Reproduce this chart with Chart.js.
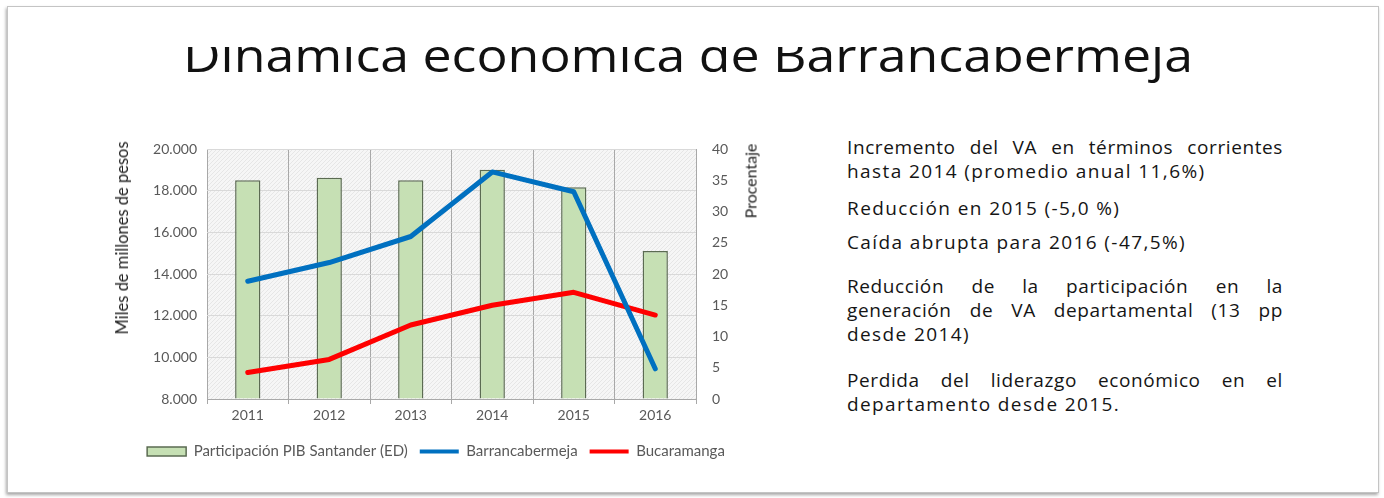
<!DOCTYPE html>
<html><head><meta charset="utf-8">
<script src="https://cdn.jsdelivr.net/npm/chart.js@4/dist/chart.umd.min.js"></script>
<style>
html,body{margin:0;padding:0;background:#fff;width:1384px;height:498px;overflow:hidden;}
#frame{position:absolute;left:7px;top:6px;width:1370px;height:485px;background:#fff;border:1px solid #c4c4c4;box-shadow:-1px 2px 3px rgba(0,0,0,0.35);}
#titleClip{position:absolute;left:0;top:47px;width:1384px;height:40px;overflow:hidden;}
#title{position:absolute;left:183px;top:-16px;font-family:'Open Sans';font-weight:400;font-size:46px;line-height:46px;white-space:nowrap;color:#111;transform-origin:0 0;}
#chartBox{position:absolute;left:100px;top:130px;width:700px;height:340px;}
.ytitle{position:absolute;white-space:nowrap;font-family:Lato;color:#222;transform:translate(-50%,-50%) rotate(-90deg);}
.ln{position:absolute;left:847px;width:436px;font-family:'Open Sans';font-size:19px;letter-spacing:1.4px;line-height:24px;color:#151515;white-space:nowrap;}
.j{text-align:justify;text-align-last:justify;white-space:normal;letter-spacing:0.6px;}
</style>
</head><body>
<div id="frame"></div>
<div id="titleClip"><span id="title">Dinamica economica de Barrancabermeja</span></div>
<div id="chartBox"><canvas id="c"></canvas></div>
<div class="ytitle" style="left:122px;top:238px;font-size:16.5px;">Miles de millones de pesos</div>
<div class="ytitle" style="left:750px;top:181px;font-size:16px;">Procentaje</div>
<div class="ln j" style="top:135px;">Incremento del VA en términos corrientes</div>
<div class="ln" style="top:159px;">hasta 2014 (promedio anual 11,6%)</div>
<div class="ln" style="top:196px;">Reducción en 2015 (-5,0 %)</div>
<div class="ln" style="top:230px;">Caída abrupta para 2016 (-47,5%)</div>
<div class="ln j" style="top:274px;">Reducción de la participación en la</div>
<div class="ln j" style="top:298px;">generación de VA departamental (13 pp</div>
<div class="ln" style="top:322px;">desde 2014)</div>
<div class="ln j" style="top:368px;">Perdida del liderazgo económico en el</div>
<div class="ln" style="top:392px;">departamento desde 2015.</div>
<script>
const categories = ['2011', '2012', '2013', '2014', '2015', '2016'];
const participacionPIB = [35.0, 35.4, 35.0, 36.7, 33.9, 23.7];
const barrancabermeja = [13650, 14550, 15800, 18900, 17950, 9450];
const bucaramanga = [9270, 9900, 11550, 12500, 13120, 12030];
const leftAxisRange = [8000, 20000, 2000];
const rightAxisRange = [0, 40, 5];

// fit title width
(function(){
  const t = document.getElementById('title');
  const w = t.getBoundingClientRect().width;
  t.style.transform = 'scaleX(' + (1010 / w) + ')';
})();

function fmtThousands(v){
  return String(Math.round(v)).replace(/\B(?=(\d{3})+(?!\d))/g, '.');
}
function makePattern(ctx){
  const c = document.createElement('canvas'); c.width = 4; c.height = 4;
  const g = c.getContext('2d');
  g.fillStyle = '#f6f6f6'; g.fillRect(0,0,4,4);
  g.strokeStyle = '#e6e6e6'; g.lineWidth = 1;
  g.beginPath(); g.moveTo(0,4); g.lineTo(4,0); g.stroke();
  return ctx.createPattern(c, 'repeat');
}
const plotBg = {
  id: 'plotBg',
  beforeDraw(chart){
    const {ctx, chartArea: a} = chart;
    ctx.save();
    ctx.fillStyle = makePattern(ctx);
    ctx.fillRect(a.left, a.top, a.right - a.left, a.bottom - a.top);
    ctx.restore();
  }
};
const tickFont = {family: 'Lato', size: 14};
new Chart(document.getElementById('c'), {
  type: 'bar',
  data: {
    labels: categories,
    datasets: [
      {type: 'bar', label: 'Participación PIB Santander (ED)', data: participacionPIB, yAxisID: 'y1',
       backgroundColor: '#c6e0b4', borderColor: '#5b6b52', borderWidth: 1.5,
       barPercentage: 0.31, categoryPercentage: 1.0, order: 3},
      {type: 'line', label: 'Barrancabermeja', data: barrancabermeja, yAxisID: 'y',
       borderColor: '#0070c0', backgroundColor: '#0070c0', borderWidth: 5, pointRadius: 0,
       tension: 0, borderJoinStyle: 'round', borderCapStyle: 'round', order: 1},
      {type: 'line', label: 'Bucaramanga', data: bucaramanga, yAxisID: 'y',
       borderColor: '#ff0000', backgroundColor: '#ff0000', borderWidth: 5, pointRadius: 0,
       tension: 0, borderJoinStyle: 'round', borderCapStyle: 'round', order: 2}
    ]
  },
  options: {
    responsive: true, maintainAspectRatio: false, animation: false,
    layout: {padding: {top: 19, left: 0, right: 28, bottom: 1}},
    scales: {
      x: {offset: true,
          grid: {offset: true, color: '#a8a8a8', lineWidth: 1, drawTicks: true, tickLength: 5},
          border: {color: '#a8a8a8'},
          ticks: {color: '#595959', font: tickFont, padding: 3, maxRotation: 0},
          afterFit(s){ s.height = 33; }},
      y: {position: 'left', min: leftAxisRange[0], max: leftAxisRange[1],
          ticks: {stepSize: leftAxisRange[2], color: '#595959', font: tickFont, padding: 10, callback: v => fmtThousands(v)},
          grid: {color: '#d9d9d9', drawTicks: false},
          border: {display: false},
          afterFit(s){ s.width = 107; }},
      y1: {position: 'right', min: rightAxisRange[0], max: rightAxisRange[1],
          ticks: {stepSize: rightAxisRange[2], color: '#595959', font: tickFont, padding: 6},
          grid: {display: true, drawOnChartArea: false, drawTicks: true, tickLength: 10, color: 'rgba(0,0,0,0)'},
          border: {display: false},
          afterFit(s){ s.width = 76; }}
    },
    plugins: {
      tooltip: {enabled: false},
      legend: {position: 'bottom',
        labels: {usePointStyle: true, pointStyleWidth: 39, boxHeight: 9, padding: 12,
          color: '#595959', font: {family: 'Lato', size: 15},
          sort: (a, b) => a.datasetIndex - b.datasetIndex,
          generateLabels(chart){
            const items = Chart.defaults.plugins.legend.labels.generateLabels(chart);
            return items.map(it => {
              const ds = chart.data.datasets[it.datasetIndex];
              if (ds.type === 'bar') {
                it.pointStyle = 'rect'; it.fillStyle = ds.backgroundColor; it.strokeStyle = ds.borderColor; it.lineWidth = 1.5;
              } else {
                it.pointStyle = 'line'; it.strokeStyle = ds.borderColor; it.fillStyle = ds.borderColor; it.lineWidth = 4;
              }
              return it;
            });
          }}
      }
    }
  },
  plugins: [plotBg]
});
</script>
</body></html>
